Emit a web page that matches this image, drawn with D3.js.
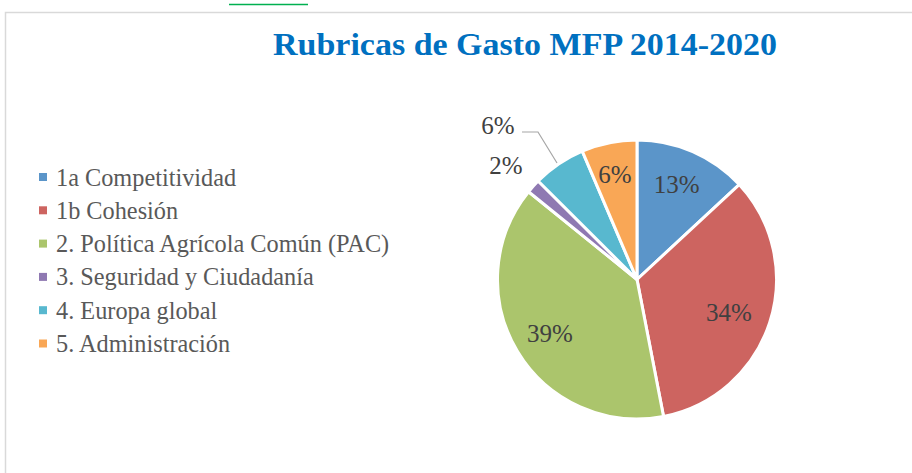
<!DOCTYPE html>
<html><head><meta charset="utf-8">
<script src="https://cdn.jsdelivr.net/npm/d3@7"></script>
<style>body{margin:0;background:#fff}svg{display:block}</style>
</head><body>
<svg id="c" width="912" height="473"></svg>
<script>
const categories = ["1a Competitividad","1b Cohesión","2. Política Agrícola Común (PAC)","3. Seguridad y Ciudadanía","4. Europa global","5. Administración"];
const values = [125.6, 325.1, 373.2, 15.7, 58.7, 61.6];
const labels = ["13%","34%","39%","2%","6%","6%"];
const colors = ["#5b95c9","#cd6460","#abc56c","#8f79b2","#58b8cf","#f9a756"];
const title = "Rubricas de Gasto MFP 2014-2020";

const svg = d3.select("#c");
// frame
svg.append("line").attr("x1",229).attr("x2",308).attr("y1",4.5).attr("y2",4.5).attr("stroke","#00b050").attr("stroke-width",1.5);
svg.append("path").attr("d","M5.5,473 L5.5,12.5 L912,12.5").attr("fill","none").attr("stroke","#d9d9d9").attr("stroke-width",1.5);

svg.append("text").attr("x",525).attr("y",55).attr("text-anchor","middle")
  .attr("font-family","Liberation Serif, serif").attr("font-weight","bold").attr("font-size",31)
  .attr("fill","#0070c0").attr("textLength",504).attr("lengthAdjust","spacingAndGlyphs").text(title);

// legend
const lg = svg.append("g");
categories.forEach((c,i)=>{
  const y = 177 + i*33.3;
  lg.append("rect").attr("x",39).attr("y",y-4).attr("width",8).attr("height",8).attr("fill",colors[i]);
  lg.append("text").attr("x",56).attr("y",y+8.5).attr("font-family","Liberation Serif, serif").attr("font-size",24.3)
    .attr("fill","#595959").text(c);
});

// pie
const cx=637, cy=279.5, R=139.5;
const pie = d3.pie().sort(null).value(d=>d)(values);
const arc = d3.arc().innerRadius(0).outerRadius(R);
const g = svg.append("g").attr("transform",`translate(${cx},${cy})`);
g.selectAll("path").data(pie).join("path").attr("d",arc).attr("fill",(d,i)=>colors[i])
  .attr("stroke","#fff").attr("stroke-width",3).attr("stroke-linejoin","round");

const labelPos = [[676.7,185],[729,313],[550,334],[506,166],[498,126],[615,175]];
// leader line for label 5
svg.append("polyline").attr("points","522,132 538,132 557,163").attr("fill","none").attr("stroke","#a6a6a6").attr("stroke-width",1.2);
labels.forEach((t,i)=>{
  svg.append("text").attr("x",labelPos[i][0]).attr("y",labelPos[i][1]+8).attr("text-anchor","middle")
    .attr("font-family","Liberation Serif, serif").attr("font-size",25).attr("fill","#404040").text(t);
});
</script>
</body></html>
